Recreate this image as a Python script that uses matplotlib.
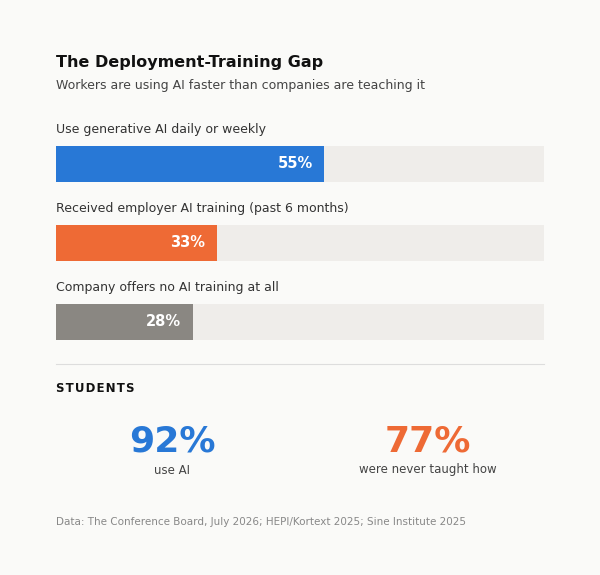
import matplotlib
matplotlib.use("Agg")
import matplotlib.pyplot as plt

labels = ["Use generative AI daily or weekly",
          "Received employer AI training (past 6 months)",
          "Company offers no AI training at all"]
values = [55, 33, 28]
colors = ["#2878d6", "#ee6a35", "#8a8782"]
stat_values = ["92%", "77%"]
stat_labels = ["use AI", "were never taught how"]
stat_colors = ["#2878d6", "#ee6a35"]

W, H = 600, 575
bg = "#fafaf8"
fig = plt.figure(figsize=(6, 5.75), dpi=100, facecolor=bg)

def fx(x): return x / W
def fy(y): return 1 - y / H

fig.text(fx(56), fy(62), "The Deployment-Training Gap", fontsize=11.5, fontweight="bold",
         color="#111111", va="center")
fig.text(fx(56), fy(86), "Workers are using AI faster than companies are teaching it",
         fontsize=9, color="#444444", va="center")

ax = fig.add_axes([fx(56), fy(345), fx(544) - fx(56), (345 - 120) / H])
ax.set_facecolor("none")
ax.set_xlim(0, 100)
ax.set_ylim(345, 120)
ax.axis("off")
centers = [164 + 79 * i for i in range(len(values))]
for i, (lab, v, c) in enumerate(zip(labels, values, colors)):
    y = centers[i]
    ax.barh(y, 100, height=36, color="#efedea", left=0)
    ax.barh(y, v, height=36, color=c, left=0)
    ax.text(v - 2.4, y, f"{v}%", color="white", fontsize=10.5, fontweight="bold",
            ha="right", va="center")
    ax.text(0, y - 34, lab, color="#333333", fontsize=9, va="center", ha="left")

line = plt.Line2D([fx(56), fx(544)], [fy(364), fy(364)], color="#dddddd", lw=0.8,
                  transform=fig.transFigure)
fig.add_artist(line)
fig.text(fx(56), fy(388), "S T U D E N T S".replace(" ", "\u200a"), fontsize=8.5,
         fontweight="bold", color="#111111", va="center")
for xc, v, l, c in zip([172, 428], stat_values, stat_labels, stat_colors):
    fig.text(fx(xc), fy(441), v, fontsize=26, fontweight="bold", color=c,
             ha="center", va="center")
    fig.text(fx(xc), fy(470), l, fontsize=8.5, color="#444444", ha="center", va="center")

fig.text(fx(56), fy(522), "Data: The Conference Board, July 2026; HEPI/Kortext 2025; Sine Institute 2025",
         fontsize=7.5, color="#888888", va="center")

fig.savefig("out.png", dpi=100, facecolor=bg)
